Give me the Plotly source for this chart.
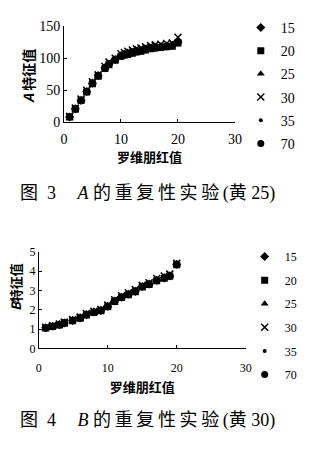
import plotly.graph_objects as go

# ---------------- data ----------------
series_names = ["15", "20", "25", "30", "35", "70"]
symbols = ["diamond", "square", "triangle-up", "x-thin-open", "circle", "circle"]
sizes = [7, 7, 7, 7, 4, 7]

xA = [1, 2, 3, 4, 5, 6, 7.2, 7.9, 9, 10, 10.6, 11.2, 12, 12.7, 13.5, 14.3, 15.2, 16, 17, 18, 19, 20]
yA_15 = [8, 21, 34, 48, 61, 73, 85, 91, 98, 104, 106, 107, 109, 111, 112, 114, 116, 117, 118, 119, 120, 125]
yA_20 = [8, 20, 34, 47, 60, 72, 84, 90, 97, 103, 105, 106, 108, 110, 111, 113, 115, 116, 117, 118, 119, 124]
yA_25 = [9, 22, 35, 48, 62, 73, 86, 92, 98, 105, 107, 108, 110, 112, 113, 115, 117, 118, 119, 120, 121, 126]
yA_30 = [9, 22, 36, 50, 63, 74, 87, 94, 100, 107, 109, 111, 113, 115, 116, 118, 120, 121, 122, 123, 124, 133]
yA_35 = [8, 21, 35, 47, 61, 72, 85, 91, 97, 104, 106, 107, 109, 110, 112, 114, 116, 117, 118, 119, 120, 125]
yA_70 = [8, 21, 34, 48, 61, 73, 85, 91, 98, 104, 105, 107, 109, 111, 112, 114, 116, 117, 118, 119, 120, 125]

xB = [1, 2, 3, 3.7, 4.9, 6, 6.9, 8, 9, 10, 11, 12, 13, 14, 15, 16, 17.1, 18.2, 19, 20]
yB_15 = [1.07, 1.15, 1.23, 1.32, 1.45, 1.58, 1.75, 1.88, 1.97, 2.18, 2.45, 2.65, 2.8, 2.95, 3.2, 3.33, 3.52, 3.65, 3.75, 4.35]
yB_20 = [1.05, 1.13, 1.21, 1.30, 1.43, 1.56, 1.73, 1.86, 1.95, 2.16, 2.43, 2.63, 2.78, 2.93, 3.18, 3.31, 3.50, 3.63, 3.73, 4.32]
yB_25 = [1.08, 1.16, 1.24, 1.33, 1.46, 1.59, 1.77, 1.89, 1.98, 2.19, 2.46, 2.66, 2.82, 2.97, 3.21, 3.35, 3.54, 3.67, 3.77, 4.36]
yB_30 = [1.10, 1.18, 1.26, 1.36, 1.49, 1.62, 1.80, 1.92, 2.02, 2.24, 2.52, 2.72, 2.88, 3.04, 3.26, 3.40, 3.62, 3.74, 3.84, 4.40]
yB_35 = [1.07, 1.15, 1.23, 1.32, 1.45, 1.57, 1.75, 1.88, 1.97, 2.18, 2.45, 2.65, 2.80, 2.95, 3.19, 3.33, 3.52, 3.65, 3.75, 4.34]
yB_70 = [1.06, 1.14, 1.22, 1.31, 1.44, 1.57, 1.74, 1.87, 1.96, 2.17, 2.44, 2.64, 2.79, 2.94, 3.19, 3.32, 3.51, 3.64, 3.74, 4.33]

xA_ticks = [0, 10, 20, 30]
yA_ticks = [0, 50, 100, 150]
xB_ticks = [0, 10, 20, 30]
yB_ticks = [0, 1, 2, 3, 4, 5]

x_title = "<b>罗维朋红值</b>"
yA_title = "<b><i>A</i> 特征值</b>"
yB_title = "<b><i>B</i>特征值</b>"
T = "\u2009"
E = "\u2002"
caption_A = "图" + E + "3　" + T + "<i>A</i> " + T.join("的重复性实验") + T + "(黄 25)"
caption_B = "图" + E + "4　" + T + "<i>B</i> " + T.join("的重复性实验") + T + "(黄 30)"

W, H = 329, 458
SERIF = "Liberation Serif, Noto Sans CJK SC"
SANS = "Noto Sans CJK SC"

fig = go.Figure()
yA_all = [yA_15, yA_20, yA_25, yA_30, yA_35, yA_70]
yB_all = [yB_15, yB_20, yB_25, yB_30, yB_35, yB_70]
for i, name in enumerate(series_names):
    fig.add_trace(go.Scatter(
        x=xA, y=yA_all[i], mode="markers", name=name,
        marker=dict(symbol=symbols[i], size=sizes[i], color="black",
                    line=dict(color="black", width=1.5 if "x" in symbols[i] else 0)),
        xaxis="x", yaxis="y", legend="legend", legendgroup="a" + name))
for i, name in enumerate(series_names):
    fig.add_trace(go.Scatter(
        x=xB, y=yB_all[i], mode="markers", name=name,
        marker=dict(symbol=symbols[i], size=sizes[i], color="black",
                    line=dict(color="black", width=1.5 if "x" in symbols[i] else 0)),
        xaxis="x2", yaxis="y2", legend="legend2", legendgroup="b" + name))

axis_common = dict(showline=True, linecolor="black", linewidth=1, ticks="inside",
                   ticklen=3, tickcolor="black", showgrid=False, zeroline=False)

fig.update_layout(
    width=W, height=H,
    margin=dict(l=0, r=0, t=0, b=0),
    paper_bgcolor="white", plot_bgcolor="white",
    showlegend=True,
    xaxis=dict(domain=[62 / W, 239 / W], anchor="y", range=[0, 30], tickvals=xA_ticks,
               tickfont=dict(family=SERIF, size=14, color="black"), ticklabelstandoff=4,
               title=dict(text=x_title, font=dict(family=SANS, size=13, color="black"), standoff=2),
               **axis_common),
    yaxis=dict(domain=[1 - 119 / H, 1 - 20 / H], anchor="x", range=[0, 150], tickvals=yA_ticks,
               tickfont=dict(family=SERIF, size=14, color="black"), **axis_common),
    xaxis2=dict(domain=[36 / W, 250 / W], anchor="y2", range=[0, 30], tickvals=xB_ticks,
                tickfont=dict(family=SERIF, size=12, color="black"), ticklabelstandoff=8,
                title=dict(text=x_title, font=dict(family=SANS, size=13, color="black"), standoff=9),
                **axis_common),
    yaxis2=dict(domain=[1 - 353 / H, 1 - 253 / H], anchor="x2", range=[0, 5], tickvals=yB_ticks,
                tickfont=dict(family=SERIF, size=12, color="black"), **axis_common),
    legend=dict(x=245 / W, y=1 - 5 / H, xanchor="left", yanchor="top",
                font=dict(family=SERIF, size=14, color="black"), tracegroupgap=2,
                bgcolor="rgba(0,0,0,0)", itemsizing="trace"),
    legend2=dict(x=249 / W, y=1 - 243 / H, xanchor="left", yanchor="top",
                 font=dict(family=SERIF, size=12, color="black"), tracegroupgap=4.6,
                 bgcolor="rgba(0,0,0,0)", itemsizing="trace"),
)

# y-axis titles
fig.add_annotation(text=yA_title, xref="paper", yref="paper", x=24 / W, y=1 - 72 / H,
                   xanchor="center", yanchor="middle", textangle=-90, showarrow=False,
                   font=dict(family=SANS, size=14, color="black"))
fig.add_annotation(text=yB_title, xref="paper", yref="paper", x=12 / W, y=1 - 290 / H,
                   xanchor="center", yanchor="middle", textangle=-90, showarrow=False,
                   font=dict(family=SANS, size=13, color="black"))

# captions
fig.add_annotation(text=caption_A, xref="paper", yref="paper", x=15 / W, y=1 - 193 / H,
                   xanchor="left", yanchor="middle", showarrow=False,
                   font=dict(family=SERIF, size=18, color="black"))
fig.add_annotation(text=caption_B, xref="paper", yref="paper", x=15 / W, y=1 - 427 / H,
                   xanchor="left", yanchor="middle", showarrow=False,
                   font=dict(family=SERIF, size=18, color="black"))

fig.write_html("out.html")
